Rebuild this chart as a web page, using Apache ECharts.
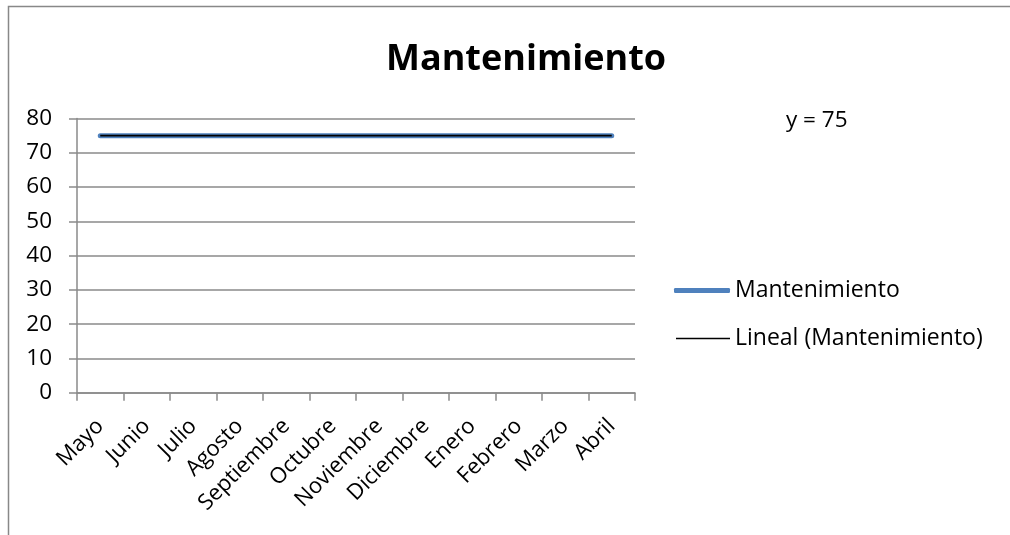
<!DOCTYPE html>
<html>
<head>
<meta charset="utf-8">
<script src="https://cdn.jsdelivr.net/npm/echarts@6/dist/echarts.min.js"></script>
<style>
html,body{margin:0;padding:0;background:#fff;}
#main{width:1010px;height:535px;}
</style>
</head>
<body>
<div id="main"></div>
<script>
var chartTitle = 'Mantenimiento';
var categories = ['Mayo','Junio','Julio','Agosto','Septiembre','Octubre','Noviembre','Diciembre','Enero','Febrero','Marzo','Abril'];
var seriesValues = [75,75,75,75,75,75,75,75,75,75,75,75];
var trendValues = [75,75,75,75,75,75,75,75,75,75,75,75];
var yTicks = [0,10,20,30,40,50,60,70,80];
var seriesName = 'Mantenimiento';
var trendName = 'Lineal (Mantenimiento)';
var equationText = 'y = 75';

var font = '"Open Sans", "Noto Sans", sans-serif';
var chart = echarts.init(document.getElementById('main'), null, {renderer:'canvas'});
var legendText = {fontFamily: font, fontSize: 23, color: '#000'};
chart.setOption({
  animation: false,
  backgroundColor: '#fff',
  textStyle: {fontFamily: font},
  graphic: [{
    type: 'rect', silent: true, z: -1,
    shape: {x: 8.5, y: 6.5, width: 1100, height: 600},
    style: {fill: 'none', stroke: '#888', lineWidth: 1.5}
  }],
  title: [{
    text: chartTitle, left: 381, top: 37,
    textStyle: {fontFamily: font, fontWeight: 'bold', fontSize: 36, color: '#000'}
  }, {
    text: equationText, left: 781, top: 104,
    textStyle: {fontFamily: font, fontWeight: 'normal', fontSize: 22.5, color: '#000'}
  }],
  legend: [{
    orient: 'vertical', left: 674, top: 279, padding: 0,
    itemWidth: 56, itemHeight: 5, icon: 'roundRect',
    textStyle: legendText,
    data: [seriesName]
  }, {
    orient: 'vertical', left: 676, top: 327, padding: 0,
    itemWidth: 54, itemHeight: 1.6, icon: 'rect',
    textStyle: legendText,
    data: [trendName]
  }],
  grid: {left: 77, right: 375, top: 118.5, bottom: 142.3, containLabel: false},
  xAxis: {
    type: 'category', data: categories, boundaryGap: true,
    axisLine: {show: true, lineStyle: {color: '#8a8a8a', width: 1.5}},
    axisTick: {show: true, interval: 0, length: 8, lineStyle: {color: '#8a8a8a', width: 1.5}},
    axisLabel: {interval: 0, rotate: 45, margin: 30, fontFamily: font, fontSize: 22, color: '#000'},
    splitLine: {show: false}
  },
  yAxis: {
    type: 'value', min: yTicks[0], max: yTicks[yTicks.length-1], interval: 10,
    axisLine: {show: true, lineStyle: {color: '#8a8a8a', width: 1.5}},
    axisTick: {show: true, length: 8, lineStyle: {color: '#8a8a8a', width: 1.5}},
    axisLabel: {margin: 25, fontFamily: font, fontSize: 22.5, color: '#000'},
    splitLine: {show: true, lineStyle: {color: '#8a8a8a', width: 1.5}}
  },
  series: [{
    name: seriesName, type: 'line', data: seriesValues,
    symbol: 'none', z: 2,
    lineStyle: {color: '#4f81bd', width: 5, cap: 'round'},
    itemStyle: {color: '#4f81bd'}
  }, {
    name: trendName, type: 'line', data: trendValues,
    symbol: 'none', z: 3,
    lineStyle: {color: '#000', width: 1.8},
    itemStyle: {color: '#000'}
  }]
});
</script>
</body>
</html>
